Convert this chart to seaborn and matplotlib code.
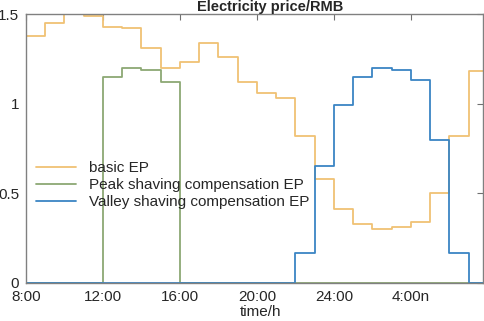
import numpy as np
import pandas as pd
import matplotlib
matplotlib.use("Agg")
import matplotlib.pyplot as plt
import seaborn as sns

# hourly prices, hour 0 = 8:00
hours = list(range(24))
basic_ep = [1.38, 1.45, 1.50, 1.49, 1.43, 1.42, 1.31, 1.20, 1.23, 1.34, 1.26, 1.12,
            1.06, 1.03, 0.82, 0.58, 0.41, 0.33, 0.30, 0.31, 0.34, 0.50, 0.82, 1.18]
peak_ep = [0, 0, 0, 0, 1.15, 1.20, 1.19, 1.12, 0, 0, 0, 0,
           0, 0, 0, 0, 0, 0, 0, 0, 0, 0, 0, 0]
valley_ep = [0, 0, 0, 0, 0, 0, 0, 0, 0, 0, 0, 0,
             0, 0, 0.17, 0.65, 0.99, 1.15, 1.20, 1.19, 1.13, 0.80, 0.17, 0]
tick_pos = [0, 4, 8, 12, 16, 20]
tick_labels = ["8:00", "12:00", "16:00", "20:00", "24:00", "4:00n"]

sns.set_style("white")
plt.rcParams["font.family"] = ["Liberation Sans", "DejaVu Sans"]

# repeat last value so the last step reaches the edge
x = hours + [24]
df = pd.DataFrame({
    "hour": x * 3,
    "price": basic_ep + basic_ep[-1:] + peak_ep + peak_ep[-1:] + valley_ep + valley_ep[-1:],
    "series": ["basic EP"] * 25 + ["Peak shaving compensation EP"] * 25 + ["Valley shaving compensation EP"] * 25,
})

fig = plt.figure(figsize=(4.84, 3.21), dpi=100)
ax = fig.add_axes([26 / 484, 1 - 283 / 321, 457 / 484, 269 / 321])

colors = ["#F0C274", "#8CA874", "#3A85C4"]
sns.lineplot(data=df, x="hour", y="price", hue="series", palette=colors,
             drawstyle="steps-post", linewidth=1.3, ax=ax, legend=True)

ax.set_xlim(0, 23.75)
ax.set_ylim(0, 1.5)
ax.set_xticks(tick_pos)
ax.set_xticklabels(tick_labels)
ax.set_yticks([0, 0.5, 1, 1.5])
ax.set_yticklabels(["0", "0.5", "1", "1.5"])
ax.tick_params(direction="in", length=4, width=0.8, color="#707070", labelsize=11,
               top=True, right=True, labeltop=False, labelright=False, pad=5)
for s in ax.spines.values():
    s.set_color("#808080")
    s.set_linewidth(1.0)

ax.set_ylabel("")
ax.set_xlabel("time/h", fontsize=11)
ax.xaxis.set_label_coords((261 - 26) / 457, -22 / 269)

fig.text(270 / 484, 1 - 7 / 321, "Electricity price/RMB", ha="center", va="center",
         fontsize=10.5, fontweight="bold")

handles, labels = ax.get_legend_handles_labels()
ax.legend(handles, labels, loc="upper left", frameon=False, fontsize=11,
          bbox_to_anchor=(36 / 484, 1 - 161 / 321), bbox_transform=fig.transFigure,
          borderpad=0, borderaxespad=0, handlelength=2.6, handletextpad=0.85,
          labelspacing=0.2)

fig.savefig("out.png", dpi=100)
